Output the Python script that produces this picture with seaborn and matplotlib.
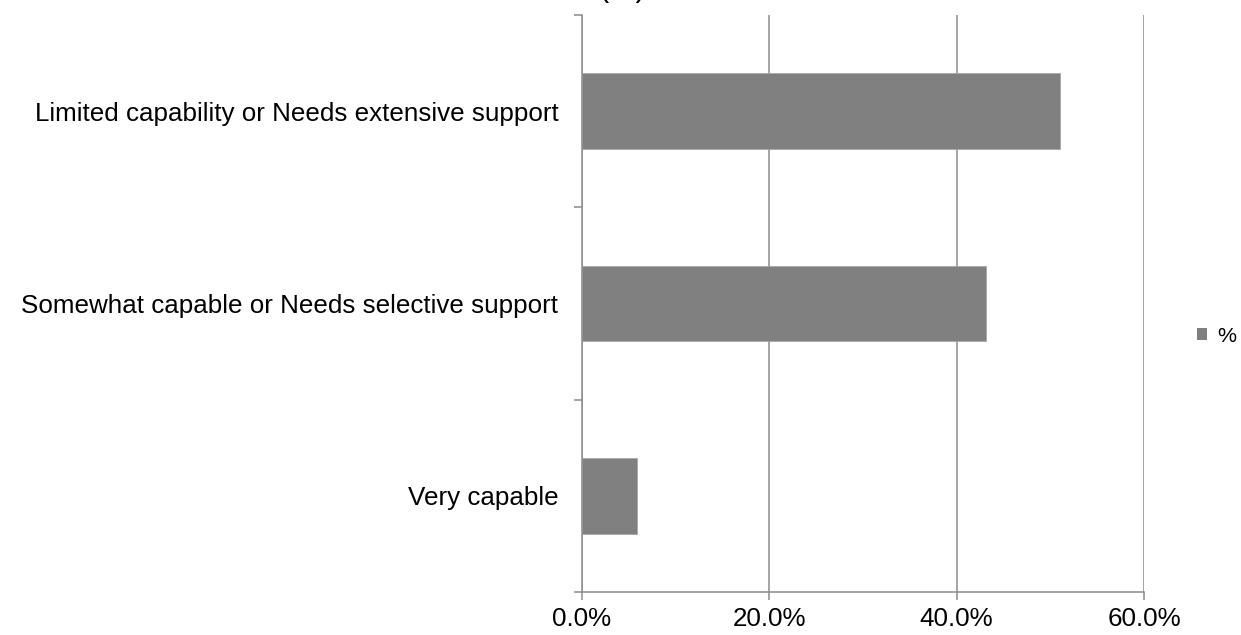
import matplotlib
matplotlib.use("Agg")
import matplotlib.pyplot as plt
from matplotlib.ticker import FixedLocator, PercentFormatter
import pandas as pd
import seaborn as sns

# Chart data
categories = [
    "Limited capability or Needs extensive support",
    "Somewhat capable or Needs selective support",
    "Very capable",
]
values = [51.0, 43.1, 5.9]
series_name = "%"
x_ticks = [0, 20, 40, 60]

sns.set_theme(style="white")
plt.rcParams["font.family"] = ["Liberation Sans", "DejaVu Sans"]
plt.rcParams["text.color"] = "black"
plt.rcParams["xtick.labelcolor"] = "black"
plt.rcParams["ytick.labelcolor"] = "black"

GREY_BAR = "#808080"
GREY_LINE = "#8c8c8c"

df = pd.DataFrame({"category": categories, "value": values, "series": series_name})

W, H = 1241, 635
fig = plt.figure(figsize=(W / 100, H / 100), dpi=100)
ax = fig.add_axes([582 / W, 43 / H, (1144 - 582) / W, (592 - 15) / H])

sns.barplot(
    data=df, x="value", y="category", hue="series", palette=[GREY_BAR],
    order=categories, orient="h", width=0.395, saturation=1,
    edgecolor="#a6a6a6", linewidth=0.6, ax=ax, zorder=3,
)

ax.set_xlim(0, 60)
ax.set_ylim(2.5, -0.5)
ax.set_xlabel("")
ax.set_ylabel("")

# x axis: percentage ticks with vertical gridlines
ax.xaxis.set_major_locator(FixedLocator(x_ticks))
ax.xaxis.set_major_formatter(PercentFormatter(decimals=1))
ax.grid(axis="x", color=GREY_LINE, linewidth=1.1, zorder=0)
ax.grid(axis="y", visible=False)
ax.tick_params(axis="x", which="major", direction="out", length=6, width=1.1,
               color=GREY_LINE, labelsize=18.7, pad=5, bottom=True,
               labelcolor="black")

# y axis: labels centred on bars, tick marks between categories
ax.tick_params(axis="y", which="major", length=0, labelsize=18.7, pad=17,
               labelcolor="black")
ax.yaxis.set_minor_locator(FixedLocator([-0.5, 0.5, 1.5, 2.5]))
ax.tick_params(axis="y", which="minor", direction="out", length=5.5, width=1.1,
               color=GREY_LINE, left=True)

for side in ("top", "right"):
    ax.spines[side].set_visible(False)
for side in ("left", "bottom"):
    ax.spines[side].set_color(GREY_LINE)
    ax.spines[side].set_linewidth(1.1)
    ax.spines[side].set_zorder(4)

leg = ax.legend(
    loc="center left", bbox_to_anchor=(1197 / W, (H - 336) / H),
    bbox_transform=fig.transFigure,
    frameon=False, fontsize=15.4, handlelength=0.45, handleheight=0.45,
    handletextpad=0.5, borderaxespad=0, borderpad=0,
)
for h in leg.legend_handles:
    h.set_edgecolor("none")
for t in leg.get_texts():
    t.set_color("black")

fig.text(0.501, 1 + 4 / H, "(%)", fontsize=22, ha="center", va="baseline",
         color="black")

fig.savefig("out.png", dpi=100)
